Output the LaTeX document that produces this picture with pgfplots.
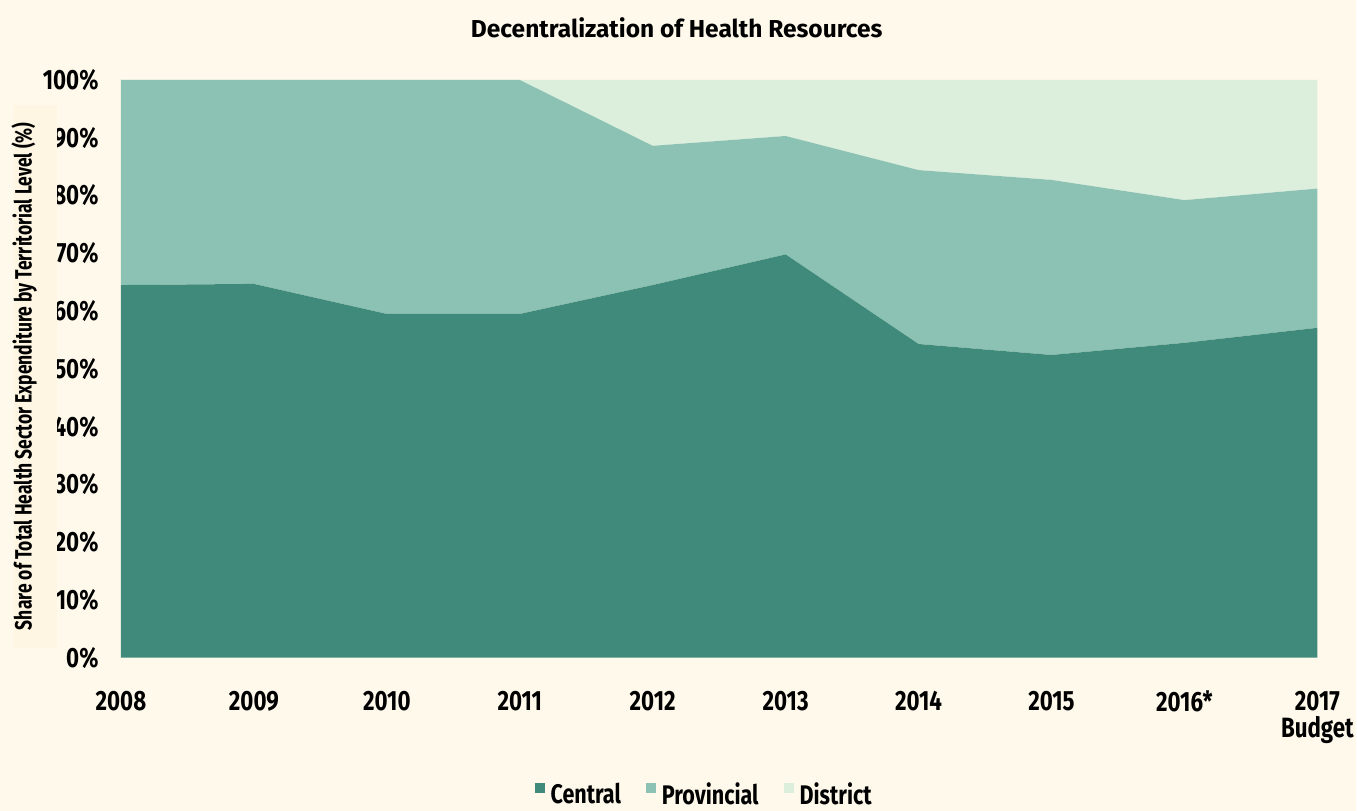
\documentclass[border=0pt]{standalone}
\usepackage{pgfplots}
\pgfplotsset{compat=1.18}
\usepackage{fontspec}
\setmainfont{Fira Sans}
\newfontfamily\cond[FakeStretch=0.8]{Fira Sans}
\newfontfamily\condd[FakeStretch=0.74]{Fira Sans}
\definecolor{bg}{HTML}{FEF9EB}
\definecolor{lab}{HTML}{FEF6E2}
\definecolor{central}{HTML}{3F8A7B}
\definecolor{prov}{HTML}{8CC2B4}
\definecolor{dist}{HTML}{DCEEDC}
\begin{document}
\begin{tikzpicture}[x=1bp,y=1bp]
\fill[bg] (0,0) rectangle (1357,811);
\node[font=\fontsize{24.6}{28}\selectfont\bfseries] at (677,783) {Decentralization of Health Resources};
\begin{axis}[
  at={(121bp,153bp)}, anchor=south west,
  scale only axis, width=1197bp, height=578bp,
  xmin=0, xmax=9, ymin=0, ymax=100,
  axis line style={draw=none},
  major tick length=0pt,
  xtick={0,...,9},
  xticklabels={2008,2009,2010,2011,2012,2013,2014,2015,2016*,{2017\\Budget}},
  xticklabel style={font=\cond\fontsize{28}{27}\selectfont\bfseries, align=center, yshift=-30bp},
  ytick={0,10,...,100},
  yticklabels={0\%,10\%,20\%,30\%,40\%,50\%,60\%,70\%,80\%,90\%,100\%},
  yticklabel style={font=\cond\fontsize{28}{30}\selectfont\bfseries, xshift=-19bp},
  stack plots=y,
  area style,
  legend style={at={(0.4866,-0.236)}, anchor=center, draw=none, fill=none,
    font=\cond\fontsize{27}{30}\selectfont\bfseries, legend columns=3,
    nodes={inner sep=0pt},
    /tikz/every odd column/.append style={column sep=6bp},
    /tikz/every even column/.append style={column sep=25bp}},
  legend image code/.code={\fill[#1] (0,1bp) rectangle (10bp,11bp);},
]
\addplot[fill=central, draw=none] coordinates {(0,64.5) (1,64.7) (2,59.5) (3,59.5) (4,64.5) (5,69.8) (6,54.3) (7,52.4) (8,54.5) (9,57.1)} \closedcycle;
\addlegendentry{Central}
\addplot[fill=prov, draw=none] coordinates {(0,35.5) (1,35.3) (2,40.5) (3,40.5) (4,24.1) (5,20.5) (6,30.1) (7,30.3) (8,24.7) (9,24.1)} \closedcycle;
\addlegendentry{Provincial}
\addplot[fill=dist, draw=none] coordinates {(0,0) (1,0) (2,0) (3,0) (4,11.4) (5,9.7) (6,15.6) (7,17.3) (8,20.8) (9,18.8)} \closedcycle;
\addlegendentry{District}
\end{axis}
\fill[lab] (14,163) rectangle (57,706);
\node[rotate=90, inner sep=0pt,
  font=\condd\fontsize{23.7}{26}\selectfont\bfseries] at (24,434.5) {Share of Total Health Sector Expenditure by Territorial Level (\%)};
\end{tikzpicture}
\end{document}
